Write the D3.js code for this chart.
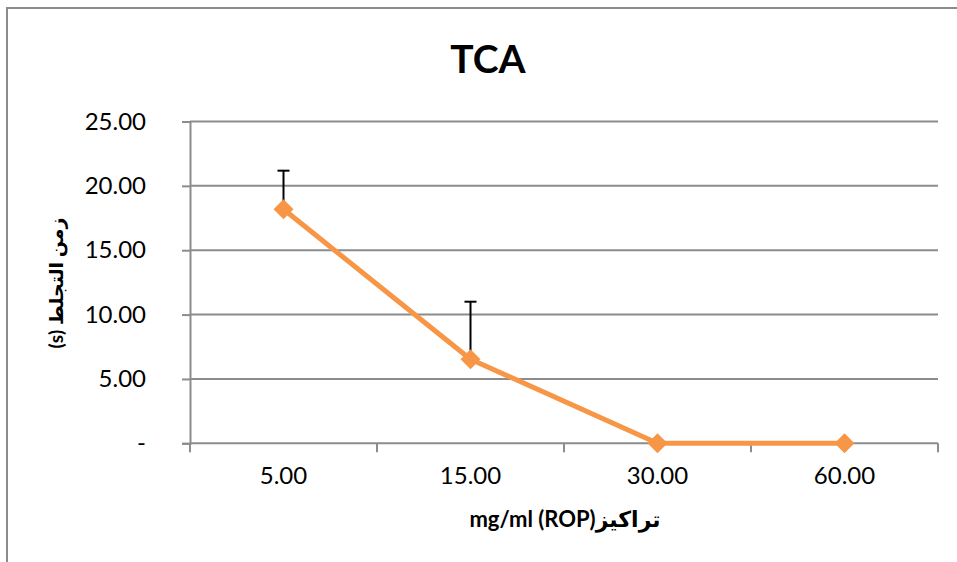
<!DOCTYPE html>
<html>
<head>
<meta charset="utf-8">
<script src="https://cdn.jsdelivr.net/npm/d3@7"></script>
<style>
  html, body { margin: 0; padding: 0; background: #fff; }
  svg { display: block; }
</style>
</head>
<body>
<svg id="chart" width="957" height="562"></svg>
<script>
// ---- data ----
const categories = ["5.00", "15.00", "30.00", "60.00"];
const values = [18.18, 6.53, 0, 0];
const errorsPlus = [3.0, 4.47, 0, 0];
const yTicks = [0, 5, 10, 15, 20, 25];
const title = "TCA";
const xTitle = "mg/ml (ROP)تراكيز";
const yTitle = "زمن التجلط (s)";

// ---- layout ----
const svg = d3.select("#chart");
const W = 957, H = 562;
const plot = { left: 190, right: 938, top: 121.5, bottom: 443.3 };
const gray = "#8c8c8c";
const orange = "#F79646";
const font = "Lato, 'DejaVu Sans', sans-serif";

svg.append("rect").attr("width", W).attr("height", H).attr("fill", "#fff");
// outer chart border (extends past the image)
svg.append("rect")
  .attr("x", 7).attr("y", 8).attr("width", 1000).attr("height", 600)
  .attr("fill", "none").attr("stroke", gray).attr("stroke-width", 2);

const x = d3.scaleBand().domain(categories).range([plot.left, plot.right]).padding(0);
const y = d3.scaleLinear().domain([0, 25]).range([plot.bottom, plot.top]);

// gridlines
svg.append("g").selectAll("line").data(yTicks.filter(d => d > 0)).join("line")
  .attr("x1", plot.left).attr("x2", plot.right)
  .attr("y1", d => y(d)).attr("y2", d => y(d))
  .attr("stroke", gray).attr("stroke-width", 2);

// y axis
const yAxis = d3.axisLeft(y).tickValues(yTicks)
  .tickFormat(d => d === 0 ? "-" : d3.format(".2f")(d))
  .tickSize(8).tickPadding(36);
const gy = svg.append("g").attr("transform", `translate(${plot.left},0)`).call(yAxis);
gy.select(".domain").attr("stroke", gray).attr("stroke-width", 2);
gy.selectAll(".tick line").attr("stroke", gray).attr("stroke-width", 2);
gy.selectAll(".tick text").attr("font-family", font).attr("font-size", 24).attr("fill", "#000");

// x axis with ticks at band boundaries
const xAxis = d3.axisBottom(x).tickSize(0).tickPadding(24);
const gx = svg.append("g").attr("transform", `translate(0,${plot.bottom})`).call(xAxis);
gx.select(".domain").remove();
gx.selectAll(".tick text").attr("font-family", font).attr("font-size", 24).attr("fill", "#000")
  .attr("dy", "0.71em");
svg.append("line").attr("x1", plot.left).attr("x2", plot.right)
  .attr("y1", plot.bottom).attr("y2", plot.bottom)
  .attr("stroke", gray).attr("stroke-width", 2);
const bounds = categories.map(c => x(c)).concat([x(categories[categories.length - 1]) + x.bandwidth()]);
svg.append("g").selectAll("line").data(bounds).join("line")
  .attr("x1", d => d).attr("x2", d => d)
  .attr("y1", plot.bottom).attr("y2", plot.bottom + 9)
  .attr("stroke", gray).attr("stroke-width", 2);

const cx = c => x(c) + x.bandwidth() / 2;

// error bars (plus direction)
const eb = svg.append("g");
categories.forEach((c, i) => {
  if (errorsPlus[i] <= 0) return;
  const top = y(values[i] + errorsPlus[i]);
  eb.append("line").attr("x1", cx(c)).attr("x2", cx(c))
    .attr("y1", y(values[i])).attr("y2", top)
    .attr("stroke", "#000").attr("stroke-width", 2);
  eb.append("line").attr("x1", cx(c) - 6).attr("x2", cx(c) + 6)
    .attr("y1", top).attr("y2", top)
    .attr("stroke", "#000").attr("stroke-width", 2);
});

// line
const line = d3.line().x((d, i) => cx(categories[i])).y(d => y(d));
svg.append("path").datum(values).attr("d", line)
  .attr("fill", "none").attr("stroke", orange).attr("stroke-width", 5)
  .attr("stroke-linejoin", "round");

// markers (diamonds)
const diamond = d3.symbol().type(d3.symbolSquare).size(200);
svg.append("g").selectAll("path").data(values).join("path")
  .attr("d", diamond)
  .attr("transform", (d, i) => `translate(${cx(categories[i])},${y(d)}) rotate(45)`)
  .attr("fill", orange);

// titles
svg.append("text").attr("x", 488).attr("y", 73)
  .attr("text-anchor", "middle").attr("font-family", font)
  .attr("font-weight", "bold").attr("font-size", 39).attr("fill", "#000").text(title);

svg.append("text").attr("x", 565).attr("y", 527)
  .attr("text-anchor", "middle").attr("font-family", font)
  .attr("font-weight", "bold").attr("font-size", 22).attr("fill", "#000")
  .attr("direction", "ltr").text(xTitle);

svg.append("text")
  .attr("transform", "translate(63,283) rotate(-90)")
  .attr("text-anchor", "middle").attr("font-family", font)
  .attr("font-weight", "bold").attr("font-size", 19).attr("fill", "#000")
  .attr("direction", "rtl").style("unicode-bidi", "embed").text(yTitle);
</script>
</body>
</html>
